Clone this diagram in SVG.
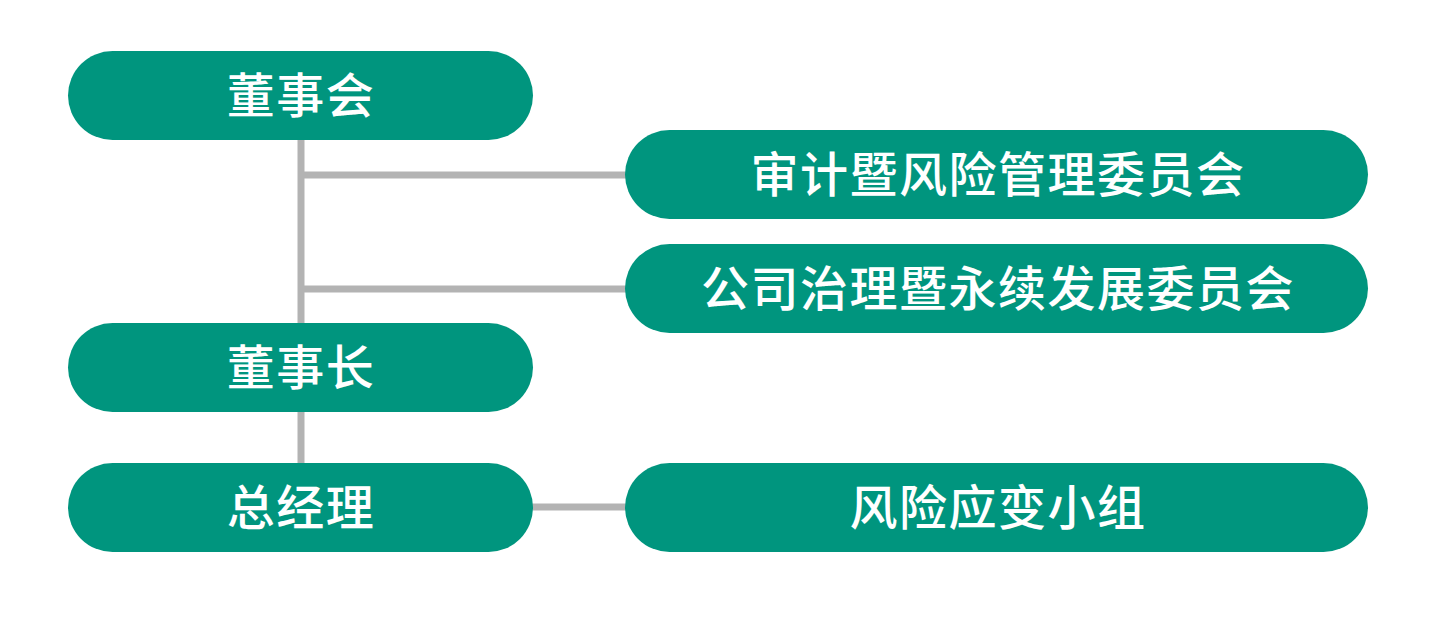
<svg xmlns="http://www.w3.org/2000/svg" width="1443" height="617" viewBox="0 0 1443 617">
<style>
.node{fill:#00957E;}
.lbl{fill:#FFFFFF;font-family:"Noto Sans CJK SC","Noto Sans",sans-serif;font-size:48px;font-weight:500;text-anchor:middle;dominant-baseline:central;letter-spacing:1.5px;}
.conn{stroke:#B3B3B3;stroke-width:7;fill:none;}
</style>
<rect width="1443" height="617" fill="#FFFFFF"/>
<g id="connectors">
<line class="conn" x1="301" y1="138" x2="301" y2="465"/>
<line class="conn" x1="301" y1="175" x2="627" y2="175"/>
<line class="conn" x1="301" y1="289" x2="627" y2="289"/>
<line class="conn" x1="531" y1="507" x2="627" y2="507"/>
</g>
<g id="board">
<rect class="node" x="68" y="51" width="465" height="89" rx="44.5"/>
<text class="lbl" x="301" y="92">董事会</text>
</g>
<g id="audit">
<rect class="node" x="625" y="130" width="743" height="89" rx="44.5"/>
<text class="lbl" x="998" y="171">审计暨风险管理委员会</text>
</g>
<g id="governance">
<rect class="node" x="625" y="244" width="743" height="89" rx="44.5"/>
<text class="lbl" x="998" y="285">公司治理暨永续发展委员会</text>
</g>
<g id="chairman">
<rect class="node" x="68" y="323" width="465" height="89" rx="44.5"/>
<text class="lbl" x="301" y="364">董事长</text>
</g>
<g id="gm">
<rect class="node" x="68" y="463" width="465" height="89" rx="44.5"/>
<text class="lbl" x="301" y="504">总经理</text>
</g>
<g id="risk">
<rect class="node" x="625" y="463" width="743" height="89" rx="44.5"/>
<text class="lbl" x="998" y="504">风险应变小组</text>
</g>
</svg>
